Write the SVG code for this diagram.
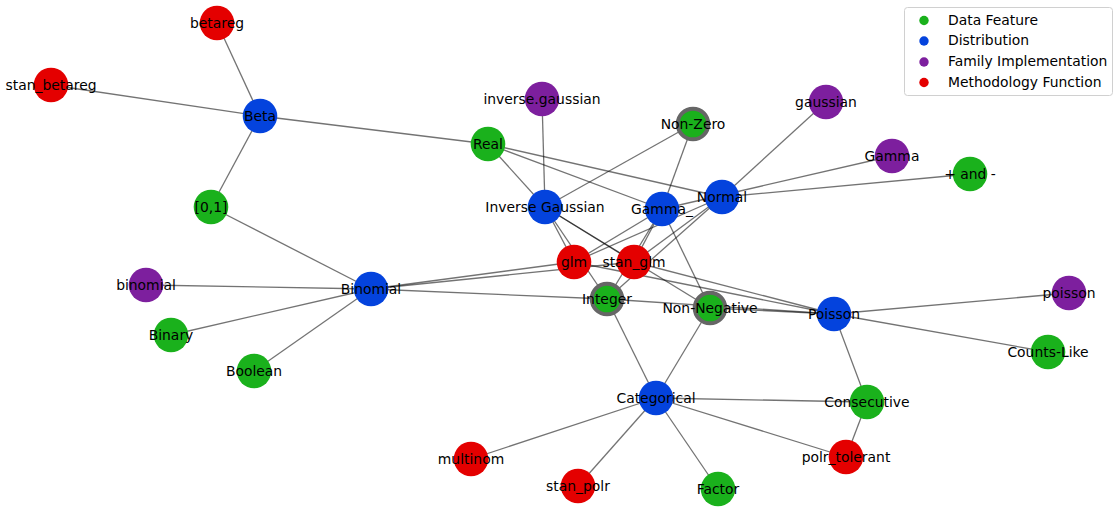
<svg xmlns="http://www.w3.org/2000/svg" width="1120" height="513" viewBox="0 0 1120 513">
<style>
.e line{stroke:#000;stroke-opacity:0.55;stroke-width:1.3;fill:none}
.n circle{stroke:none}
.df{fill:#1ab11c}
.di{fill:#0443dd}
.fi{fill:#7d1f9e}
.mf{fill:#e40000}
.ring{stroke:#666!important;stroke-width:4}
text{font-family:"DejaVu Sans","Liberation Sans",sans-serif;font-size:13.9px;fill:#000}
.n text{text-anchor:middle}
</style>
<rect width="1120" height="513" fill="#fff"/>
<g id="connectors" class="e">
<line x1="217" y1="23" x2="260" y2="116"/>
<line x1="51" y1="85" x2="260" y2="116"/>
<line x1="260" y1="116" x2="211" y2="207"/>
<line x1="260" y1="116" x2="488" y2="144"/>
<line x1="211" y1="207" x2="371" y2="289"/>
<line x1="146" y1="285" x2="371" y2="289"/>
<line x1="171" y1="335" x2="371" y2="289"/>
<line x1="254" y1="371" x2="371" y2="289"/>
<line x1="371" y1="289" x2="574" y2="262"/>
<line x1="371" y1="289" x2="634" y2="262"/>
<line x1="371" y1="289" x2="607" y2="299"/>
<line x1="542" y1="99" x2="545" y2="207"/>
<line x1="488" y1="144" x2="545" y2="207"/>
<line x1="488" y1="144" x2="662" y2="209"/>
<line x1="488" y1="144" x2="722" y2="197"/>
<line x1="693" y1="124" x2="545" y2="207"/>
<line x1="693" y1="124" x2="662" y2="209"/>
<line x1="826" y1="102" x2="722" y2="197"/>
<line x1="892" y1="156" x2="662" y2="209"/>
<line x1="970" y1="174" x2="722" y2="197"/>
<line x1="545" y1="207" x2="574" y2="262"/>
<line x1="545" y1="207" x2="634" y2="262"/>
<line x1="662" y1="209" x2="574" y2="262"/>
<line x1="662" y1="209" x2="634" y2="262"/>
<line x1="722" y1="197" x2="574" y2="262"/>
<line x1="722" y1="197" x2="634" y2="262"/>
<line x1="574" y1="262" x2="834" y2="314"/>
<line x1="634" y1="262" x2="834" y2="314"/>
<line x1="662" y1="209" x2="710" y2="308"/>
<line x1="545" y1="207" x2="710" y2="308"/>
<line x1="545" y1="207" x2="607" y2="299"/>
<line x1="662" y1="209" x2="607" y2="299"/>
<line x1="722" y1="197" x2="607" y2="299"/>
<line x1="607" y1="299" x2="834" y2="314"/>
<line x1="710" y1="308" x2="834" y2="314"/>
<line x1="1069" y1="293" x2="834" y2="314"/>
<line x1="1048" y1="352" x2="834" y2="314"/>
<line x1="834" y1="314" x2="867" y2="402"/>
<line x1="867" y1="402" x2="656" y2="398"/>
<line x1="867" y1="402" x2="846" y2="457"/>
<line x1="656" y1="398" x2="846" y2="457"/>
<line x1="656" y1="398" x2="471" y2="459"/>
<line x1="656" y1="398" x2="578" y2="486"/>
<line x1="656" y1="398" x2="718" y2="489"/>
<line x1="656" y1="398" x2="607" y2="299"/>
<line x1="656" y1="398" x2="710" y2="308"/>
</g>
<g id="node-betareg" class="n"><circle class="mf" cx="217" cy="23" r="17.3"/><text x="217" y="27.8">betareg</text></g>
<g id="node-stan_betareg" class="n"><circle class="mf" cx="51" cy="85" r="17.3"/><text x="51" y="89.8">stan_betareg</text></g>
<g id="node-Beta" class="n"><circle class="di" cx="260" cy="116" r="17.3"/><text x="260" y="120.8">Beta</text></g>
<g id="node-01" class="n"><circle class="df" cx="211" cy="207" r="17.3"/><text x="211" y="211.8">[0,1]</text></g>
<g id="node-inverse.gaussian" class="n"><circle class="fi" cx="542" cy="99" r="17.3"/><text x="542" y="103.8">inverse.gaussian</text></g>
<g id="node-Real" class="n"><circle class="df" cx="488" cy="144" r="17.3"/><text x="488" y="148.8">Real</text></g>
<g id="node-Non-Zero" class="n"><circle class="df ring" cx="693" cy="124" r="15.3"/><text x="693" y="128.8">Non-Zero</text></g>
<g id="node-gaussian" class="n"><circle class="fi" cx="826" cy="102" r="17.3"/><text x="826" y="106.8">gaussian</text></g>
<g id="node-Gamma" class="n"><circle class="fi" cx="892" cy="156" r="17.3"/><text x="892" y="160.8">Gamma</text></g>
<g id="node-plusminus" class="n"><circle class="df" cx="970" cy="174" r="17.3"/><text x="970" y="178.8">+ and -</text></g>
<g id="node-Inverse_Gaussian" class="n"><circle class="di" cx="545" cy="207" r="17.3"/><text x="545" y="211.8">Inverse Gaussian</text></g>
<g id="node-Gamma_" class="n"><circle class="di" cx="662" cy="209" r="17.3"/><text x="662" y="213.8">Gamma_</text></g>
<g id="node-Normal" class="n"><circle class="di" cx="722" cy="197" r="17.3"/><text x="722" y="201.8">Normal</text></g>
<g id="node-glm" class="n"><circle class="mf" cx="574" cy="262" r="17.3"/><text x="574" y="266.8">glm</text></g>
<g id="node-stan_glm" class="n"><circle class="mf" cx="634" cy="262" r="17.3"/><text x="634" y="266.8">stan_glm</text></g>
<g id="node-binomial" class="n"><circle class="fi" cx="146" cy="285" r="17.3"/><text x="146" y="289.8">binomial</text></g>
<g id="node-Binomial" class="n"><circle class="di" cx="371" cy="289" r="17.3"/><text x="371" y="293.8">Binomial</text></g>
<g id="node-Integer" class="n"><circle class="df ring" cx="607" cy="299" r="15.3"/><text x="607" y="303.8">Integer</text></g>
<g id="node-Non-Negative" class="n"><circle class="df ring" cx="710" cy="308" r="15.3"/><text x="710" y="312.8">Non-Negative</text></g>
<g id="node-Poisson" class="n"><circle class="di" cx="834" cy="314" r="17.3"/><text x="834" y="318.8">Poisson</text></g>
<g id="node-poisson" class="n"><circle class="fi" cx="1069" cy="293" r="17.3"/><text x="1069" y="297.8">poisson</text></g>
<g id="node-Counts-Like" class="n"><circle class="df" cx="1048" cy="352" r="17.3"/><text x="1048" y="356.8">Counts-Like</text></g>
<g id="node-Binary" class="n"><circle class="df" cx="171" cy="335" r="17.3"/><text x="171" y="339.8">Binary</text></g>
<g id="node-Boolean" class="n"><circle class="df" cx="254" cy="371" r="17.3"/><text x="254" y="375.8">Boolean</text></g>
<g id="node-Categorical" class="n"><circle class="di" cx="656" cy="398" r="17.3"/><text x="656" y="402.8">Categorical</text></g>
<g id="node-Consecutive" class="n"><circle class="df" cx="867" cy="402" r="17.3"/><text x="867" y="406.8">Consecutive</text></g>
<g id="node-multinom" class="n"><circle class="mf" cx="471" cy="459" r="17.3"/><text x="471" y="463.8">multinom</text></g>
<g id="node-stan_polr" class="n"><circle class="mf" cx="578" cy="486" r="17.3"/><text x="578" y="490.8">stan_polr</text></g>
<g id="node-Factor" class="n"><circle class="df" cx="718" cy="489" r="17.3"/><text x="718" y="493.8">Factor</text></g>
<g id="node-polr_tolerant" class="n"><circle class="mf" cx="846" cy="457" r="17.3"/><text x="846" y="461.8">polr_tolerant</text></g>
<g id="legend">
<rect x="904.5" y="7.5" width="208" height="88" rx="3" fill="#fff" fill-opacity="0.8" stroke="#d0d0d0" stroke-width="1"/>
<circle class="df" cx="924" cy="20.5" r="4.7"/>
<circle class="di" cx="924" cy="41" r="4.7"/>
<circle class="fi" cx="924" cy="62" r="4.7"/>
<circle class="mf" cx="924" cy="82.5" r="4.7"/>
<text x="948" y="24.5">Data Feature</text>
<text x="948" y="45">Distribution</text>
<text x="948" y="66">Family Implementation</text>
<text x="948" y="86.5">Methodology Function</text>
</g>
</svg>
